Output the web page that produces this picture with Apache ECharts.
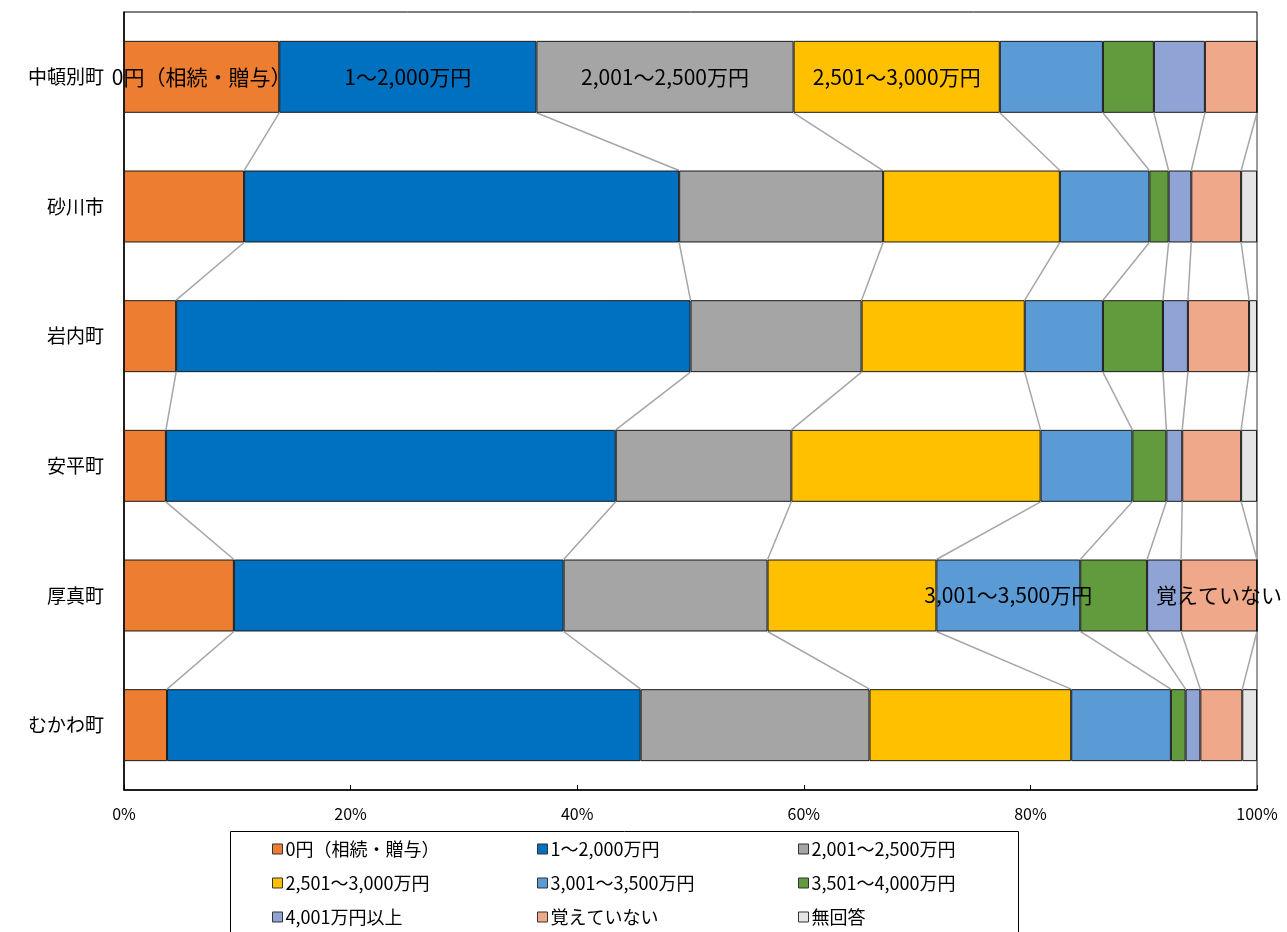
<!DOCTYPE html>
<html><head><meta charset="utf-8">
<script src="https://cdn.jsdelivr.net/npm/echarts@6/dist/echarts.min.js"></script>
<style>html,body{margin:0;padding:0;background:#fff}#c{width:1287px;height:932px}</style>
</head><body><div id="c"></div>
<script>
const towns = ['中頓別町','砂川市','岩内町','安平町','厚真町','むかわ町'];
const seriesNames = ['0円（相続・贈与）','1～2,000万円','2,001～2,500万円','2,501～3,000万円','3,001～3,500万円','3,501～4,000万円','4,001万円以上','覚えていない','無回答'];
const s0 = [13.7, 10.6, 4.6, 3.7, 9.7, 3.8];
const s1 = [22.7, 38.4, 45.4, 39.7, 29.1, 41.8];
const s2 = [22.7, 18.0, 15.1, 15.5, 18.0, 20.2];
const s3 = [18.2, 15.6, 14.4, 22.0, 14.9, 17.8];
const s4 = [9.1, 7.9, 6.9, 8.1, 12.7, 8.8];
const s5 = [4.5, 1.7, 5.3, 3.0, 5.9, 1.3];
const s6 = [4.5, 2.0, 2.2, 1.4, 3.0, 1.3];
const s7 = [4.6, 4.4, 5.4, 5.2, 6.7, 3.7];
const s8 = [0, 1.4, 0.7, 1.4, 0, 1.3];
const xTicks = [0, 20, 40, 60, 80, 100];

const values = [s0,s1,s2,s3,s4,s5,s6,s7,s8];
const colors = ['#ED7D31','#0070C0','#A5A5A5','#FFC000','#5B9BD5','#629B3E','#8FA3D5','#F0A88B','#E5E5E5'];
const labelled = {0:[0],1:[0],2:[0],3:[0],4:[4],7:[4]};
const FONT = '"Noto Sans CJK JP", "Noto Sans", sans-serif';
const BARW = 0.555;

function cum(k, i){ let s=0; for(let j=0;j<=k;j++) s+=values[j][i]; return s; }

const series = values.map((arr,k)=>({
  name: seriesNames[k], type:'bar', stack:'t', barWidth: (BARW*100)+'%',
  itemStyle:{color:colors[k], borderColor:'#1a1a1a', borderWidth:1},
  emphasis:{disabled:true},
  data: arr.map((v,i)=>{
    const on = (labelled[k]||[]).indexOf(i)>=0;
    return {value:v, label:{show:on, formatter: seriesNames[k], color:'#000', fontSize:21, fontFamily:FONT, position:'inside'}};
  })
}));

const linkData = [];
for(let k=0;k<values.length;k++) for(let i=0;i<towns.length-1;i++) linkData.push([cum(k,i), i, cum(k,i+1)]);
series.push({
  type:'custom', silent:true, z:1,
  data: linkData,
  renderItem:(params, api)=>{
    const i = api.value(1);
    const h = api.size([0,1])[1]*BARW/2;
    const p1 = api.coord([api.value(0), i]);
    const p2 = api.coord([api.value(2), i+1]);
    return {type:'line', shape:{x1:p1[0], y1:p1[1]+h, x2:p2[0], y2:p2[1]-h}, style:{stroke:'#A6A6A6', lineWidth:1.5}};
  }
});

const colX = [272, 537, 798];
const rowY = [840, 874, 908];
const legends = seriesNames.map((n,k)=>({
  data:[n], left: colX[k%3], top: rowY[Math.floor(k/3)], padding:0,
  icon:'rect', itemWidth:10, itemHeight:10, itemGap:4,
  itemStyle:{borderColor:'#333', borderWidth:1},
  textStyle:{fontSize:18, fontFamily:FONT, color:'#000', padding:[0,0,0,-2]},
  selectedMode:false
}));

const chart = echarts.init(document.getElementById('c'));
chart.setOption({
  animation:false,
  backgroundColor:'#fff',
  grid:{left:124, right:30, top:12, bottom:142, show:true, borderColor:'#000', borderWidth:1},
  xAxis:{type:'value', min:xTicks[0], max:xTicks[xTicks.length-1], interval:xTicks[1]-xTicks[0],
    axisLine:{show:true, lineStyle:{color:'#000', width:1.5}},
    axisTick:{show:true, inside:true, length:5, lineStyle:{color:'#000'}},
    splitLine:{show:false},
    axisLabel:{formatter:'{value}%', color:'#000', fontSize:16, fontFamily:FONT, margin:16}},
  yAxis:{type:'category', data:towns, inverse:true,
    axisLine:{show:true, lineStyle:{color:'#000', width:1.5}},
    axisTick:{show:false},
    axisLabel:{color:'#000', fontSize:19, fontFamily:FONT, margin:20}},
  legend: legends,
  graphic:[{type:'rect', left:228, top:829, shape:{width:788, height:130}, style:{fill:'none', stroke:'#000', lineWidth:1}, z:-1}],
  series: series
});
</script></body></html>
